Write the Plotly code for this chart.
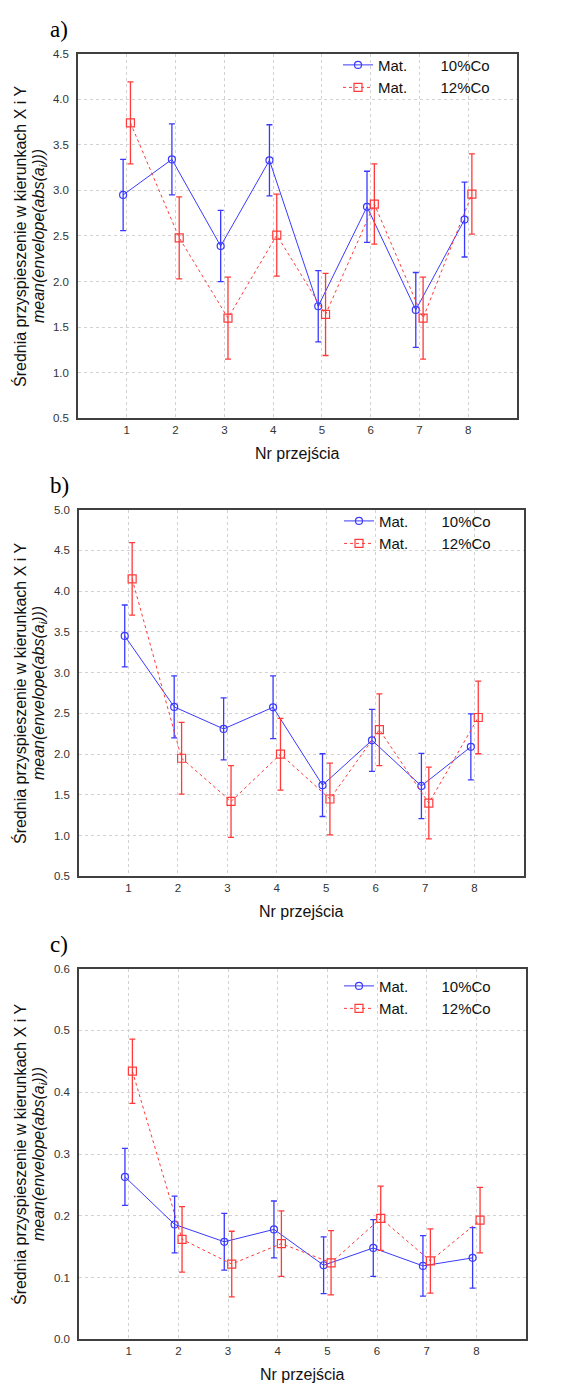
import plotly.graph_objects as go

W, H = 580, 1393

passes = [1, 2, 3, 4, 5, 6, 7, 8]
series_names = ["Mat.\u00a0\u00a0\u00a0\u00a0\u00a0\u00a0\u00a0\u00a010%Co",
                "Mat.\u00a0\u00a0\u00a0\u00a0\u00a0\u00a0\u00a0\u00a012%Co"]

# panel a)
a_co10 = [2.95, 3.34, 2.39, 3.33, 1.73, 2.82, 1.69, 2.68]
a_co10_err = [0.39, 0.39, 0.39, 0.39, 0.39, 0.39, 0.41, 0.41]
a_co12 = [3.74, 2.48, 1.60, 2.51, 1.64, 2.85, 1.60, 2.96]
a_co12_err = [0.45, 0.45, 0.45, 0.45, 0.45, 0.44, 0.45, 0.44]

# panel b)
b_co10 = [3.45, 2.58, 2.31, 2.575, 1.62, 2.17, 1.61, 2.09]
b_co10_err = [0.38, 0.38, 0.38, 0.385, 0.385, 0.38, 0.40, 0.405]
b_co12 = [4.15, 1.95, 1.42, 2.00, 1.45, 2.30, 1.40, 2.45]
b_co12_err = [0.445, 0.44, 0.44, 0.44, 0.44, 0.44, 0.44, 0.445]

# panel c)
c_co10 = [0.263, 0.186, 0.158, 0.178, 0.120, 0.148, 0.119, 0.132]
c_co10_err = [0.046, 0.046, 0.046, 0.046, 0.046, 0.046, 0.049, 0.049]
c_co12 = [0.434, 0.162, 0.122, 0.155, 0.124, 0.196, 0.127, 0.193]
c_co12_err = [0.052, 0.053, 0.053, 0.053, 0.052, 0.052, 0.052, 0.053]

y_ranges = [(0.5, 4.5), (0.5, 5.0), (0.0, 0.6)]
y_dticks = [0.5, 0.5, 0.1]
panel_labels = ["a)", "b)", "c)"]

# plot areas in pixels: (left, right, top, bottom)
boxes = [(78, 517, 48, 416), (79, 524, 508, 878), (79, 526, 971, 1345)]
legend_top = [43, 503, 972]

BLUE = "#3a3aff"
RED = "#ff3a3a"
OFF = 0.075

fig = go.Figure()
panels = [(a_co10, a_co10_err, a_co12, a_co12_err),
          (b_co10, b_co10_err, b_co12, b_co12_err),
          (c_co10, c_co10_err, c_co12, c_co12_err)]

for i, (m10, e10, m12, e12) in enumerate(panels):
    sfx = "" if i == 0 else str(i + 1)
    leg = "legend" + sfx
    fig.add_trace(go.Scatter(
        x=[p - OFF for p in passes], y=m10, name=series_names[0],
        mode="lines+markers", xaxis="x" + sfx, yaxis="y" + sfx, legend=leg,
        line=dict(color=BLUE, width=1),
        marker=dict(symbol="circle-open", size=7, color=BLUE, line=dict(width=1.2)),
        error_y=dict(type="data", array=e10, visible=True, color=BLUE, thickness=1.3, width=3),
    ))
    fig.add_trace(go.Scatter(
        x=[p + OFF for p in passes], y=m12, name=series_names[1],
        mode="lines+markers", xaxis="x" + sfx, yaxis="y" + sfx, legend=leg,
        line=dict(color=RED, width=1, dash="dot"),
        marker=dict(symbol="square-open", size=8, color=RED, line=dict(width=1.2)),
        error_y=dict(type="data", array=e12, visible=True, color=RED, thickness=1.3, width=3),
    ))

layout = dict(
    width=W, height=H, margin=dict(l=0, r=0, t=0, b=0),
    paper_bgcolor="white", plot_bgcolor="white", showlegend=True,
    font=dict(family="Liberation Sans, Arial, sans-serif", color="#222"),
)

annotations = []
for i, (l, r, t, b) in enumerate(boxes):
    sfx = "" if i == 0 else str(i + 1)
    xd = [l / W, r / W]
    yd = [1 - b / H, 1 - t / H]
    axis_common = dict(
        showline=True, linecolor="#404040", linewidth=1.5, mirror=True,
        showgrid=True, gridcolor="#d2d2d2", griddash="dot", gridwidth=1,
        zeroline=False, ticks="", tickfont=dict(size=11.5, color="#333"),
    )
    layout["xaxis" + sfx] = dict(
        domain=xd, range=[0, 9], tickmode="array", tickvals=passes,
        ticktext=[str(p) for p in passes], anchor="y" + sfx, **axis_common)
    y0, y1 = y_ranges[i]
    layout["yaxis" + sfx] = dict(
        domain=yd, range=[y0, y1], dtick=y_dticks[i], tick0=0,
        tickformat=".1f", anchor="x" + sfx, ticklabelstandoff=5, **axis_common)
    layout["legend" + sfx] = dict(
        x=(l + 260) / W, y=1 - legend_top[i] / H, xanchor="left", yanchor="top",
        bgcolor="rgba(0,0,0,0)", font=dict(size=15, color="#111"),
        tracegroupgap=0, itemwidth=30)
    cy = 1 - (t + b) / 2 / H
    annotations.append(dict(
        text="Średnia przyspieszenie w kierunkach X i Y", textangle=-90,
        x=20 / W, y=cy, xref="paper", yref="paper", showarrow=False,
        xanchor="center", yanchor="middle",
        font=dict(size=16, color="#111")))
    annotations.append(dict(
        text="<i>mean(envelope(abs(a<sub>i</sub>)))</i>", textangle=-90,
        x=39 / W, y=cy, xref="paper", yref="paper", showarrow=False,
        xanchor="center", yanchor="middle",
        font=dict(size=16, color="#111")))
    annotations.append(dict(
        text="Nr przejścia", x=(l + r) / 2 / W, y=1 - (b + 35) / H,
        xref="paper", yref="paper", showarrow=False,
        xanchor="center", yanchor="middle",
        font=dict(size=16, color="#111")))
    annotations.append(dict(
        text=panel_labels[i], x=48 / W, y=1 - (t - 24) / H,
        xref="paper", yref="paper", showarrow=False,
        xanchor="left", yanchor="middle",
        font=dict(size=23, color="#000", family="Liberation Serif, Times New Roman, serif")))

layout["annotations"] = annotations
fig.update_layout(**layout)
fig.write_html("out.html")
